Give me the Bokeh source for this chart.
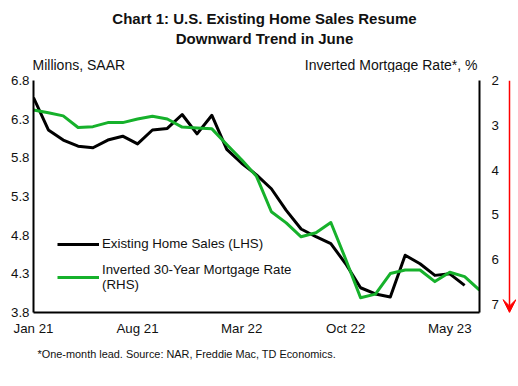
from bokeh.plotting import figure
from bokeh.layouts import column, row
from bokeh.models import (Range1d, LinearAxis, FixedTicker, Legend, LegendItem,
                          Arrow, VeeHead)
from bokeh.core.properties import value
from bokeh.embed import file_html
from bokeh.resources import INLINE

# ---------------- data ----------------
months = ["Jan 21", "Feb 21", "Mar 21", "Apr 21", "May 21", "Jun 21", "Jul 21",
          "Aug 21", "Sep 21", "Oct 21", "Nov 21", "Dec 21",
          "Jan 22", "Feb 22", "Mar 22", "Apr 22", "May 22", "Jun 22", "Jul 22",
          "Aug 22", "Sep 22", "Oct 22", "Nov 22", "Dec 22",
          "Jan 23", "Feb 23", "Mar 23", "Apr 23", "May 23", "Jun 23", "Jul 23"]

# Existing home sales, millions SAAR (Jan 21 - Jun 23)
home_sales = [6.58, 6.16, 6.03, 5.95, 5.93, 6.03, 6.08, 5.98, 6.16, 6.18, 6.36, 6.11,
              6.35, 5.91, 5.73, 5.58, 5.40, 5.12, 4.88, 4.78, 4.69, 4.43, 4.12, 4.04,
              4.00, 4.54, 4.43, 4.28, 4.30, 4.15]

# Inverted 30-year mortgage rate, % (one-month lead, Jan 21 - Jul 23)
mortgage_rate = [2.66, 2.72, 2.79, 3.05, 3.03, 2.94, 2.94, 2.86, 2.80, 2.86, 3.04, 3.06,
                 3.08, 3.43, 3.77, 4.14, 4.93, 5.18, 5.49, 5.40, 5.17, 5.99, 6.85, 6.77,
                 6.31, 6.23, 6.23, 6.49, 6.28, 6.38, 6.68]

tick_labels = ["Jan 21", "Aug 21", "Mar 22", "Oct 22", "May 23"]
left_ticks = [3.8, 4.3, 4.8, 5.3, 5.8, 6.3, 6.8]
right_ticks = [2, 3, 4, 5, 6, 7]

title_lines = ["Chart 1: U.S. Existing Home Sales Resume", "Downward Trend in June"]
left_unit = "Millions, SAAR"
right_unit = "Inverted Mortgage Rate*, %"
footnote = "*One-month  lead. Source: NAR, Freddie Mac, TD Economics."
series_names = ["Existing Home Sales (LHS)", "Inverted 30-Year Mortgage Rate\n(RHS)"]

FONT = "Liberation Sans"
GREEN = "#16b12b"
TXT = "#111111"
W, H = 518, 386
HEAD_H, FOOT_H = 72, 46
MAIN_W, ARROW_W = 502, 14
MID_H = H - HEAD_H - FOOT_H


def blank(width, height):
    f = figure(width=width, height=height, x_range=Range1d(0, width),
               y_range=Range1d(height, 0), x_axis_type=None, y_axis_type=None,
               output_backend="svg", toolbar_location=None,
               min_border=0)
    f.outline_line_color = None
    f.xgrid.visible = False
    f.ygrid.visible = False
    return f


# ---------------- header (titles + axis units) ----------------
head = blank(W, HEAD_H)
head.text(x=[264, 264], y=[18, 38], text=title_lines, text_font=value(FONT),
          text_font_style="bold", text_font_size="15px", text_align="center",
          text_baseline="middle", text_color=TXT)
head.text(x=[32], y=[64], text=[left_unit], text_font=value(FONT),
          text_font_size="14px", text_align="left", text_baseline="middle",
          text_color=TXT)
head.text(x=[477], y=[64], text=[right_unit], text_font=value(FONT),
          text_font_size="14px", text_align="right", text_baseline="middle",
          text_color=TXT)

# ---------------- main chart ----------------
p = figure(width=MAIN_W, height=MID_H,
           x_range=Range1d(0, len(months) - 1),
           y_range=Range1d(left_ticks[0], left_ticks[-1]),
           output_backend="svg", toolbar_location=None,
           min_border_left=33, min_border_right=MAIN_W - 479,
           min_border_top=80 - HEAD_H, min_border_bottom=HEAD_H + MID_H - 312)
p.outline_line_color = None
p.xgrid.visible = False
p.ygrid.visible = False

p.extra_y_ranges = {"rate": Range1d(start=7.18, end=2.0)}


def style_axis(ax, standoff):
    ax.axis_line_color = "black"
    ax.axis_line_width = 2
    ax.major_tick_line_color = None
    ax.minor_tick_line_color = None
    ax.major_tick_out = 0
    ax.major_tick_in = 0
    ax.major_label_standoff = standoff
    ax.major_label_text_font = FONT
    ax.major_label_text_font_size = "13.3px"
    ax.major_label_text_color = TXT


xa = p.xaxis[0]
xa.ticker = FixedTicker(ticks=[months.index(t) for t in tick_labels])
xa.major_label_overrides = {months.index(t): t for t in tick_labels}
style_axis(xa, 8)

ya = p.yaxis[0]
ya.ticker = FixedTicker(ticks=left_ticks)
style_axis(ya, 4)

ra = LinearAxis(y_range_name="rate", ticker=FixedTicker(ticks=right_ticks))
style_axis(ra, 12)
p.add_layout(ra, "right")

r1 = p.line(list(range(len(home_sales))), home_sales, line_color="black",
            line_width=3, line_join="round")
r2 = p.line(list(range(len(mortgage_rate))), mortgage_rate, y_range_name="rate",
            line_color=GREEN, line_width=3, line_join="round")

legend = Legend(items=[LegendItem(label=series_names[0], renderers=[r1]),
                       LegendItem(label=series_names[1], renderers=[r2])],
                location=(24, 20), padding=0, margin=0, spacing=11,
                glyph_width=42, glyph_height=14, label_height=14, label_standoff=3,
                label_text_font=FONT, label_text_font_size="13.3px",
                label_text_color=TXT,
                border_line_color=None, background_fill_alpha=0)
p.add_layout(legend)

# ---------------- red direction arrow (right of the chart) ----------------
arr = figure(width=ARROW_W, height=MID_H, x_range=Range1d(0, 1), y_range=Range1d(0, 1),
             x_axis_type=None, y_axis_type=None, output_backend="svg",
             toolbar_location=None, min_border_left=0, min_border_right=0,
             min_border_top=77 - HEAD_H, min_border_bottom=HEAD_H + MID_H - 313)
arr.outline_line_color = None
arr.xgrid.visible = False
arr.ygrid.visible = False
arr.add_layout(Arrow(x_start=0.5, y_start=1, x_end=0.5, y_end=0,
                     line_color="red", line_width=1.5,
                     end=VeeHead(size=13, fill_color="red", line_color="red")))

# ---------------- footer ----------------
foot = blank(W, FOOT_H)
foot.text(x=[37], y=[13], text=[footnote], text_font=value(FONT),
          text_font_size="10.9px", text_align="left", text_baseline="middle",
          text_color=TXT)

layout = column(head, row(p, arr, spacing=0), foot, spacing=0)

open("out.html", "w").write(file_html(layout, INLINE))
